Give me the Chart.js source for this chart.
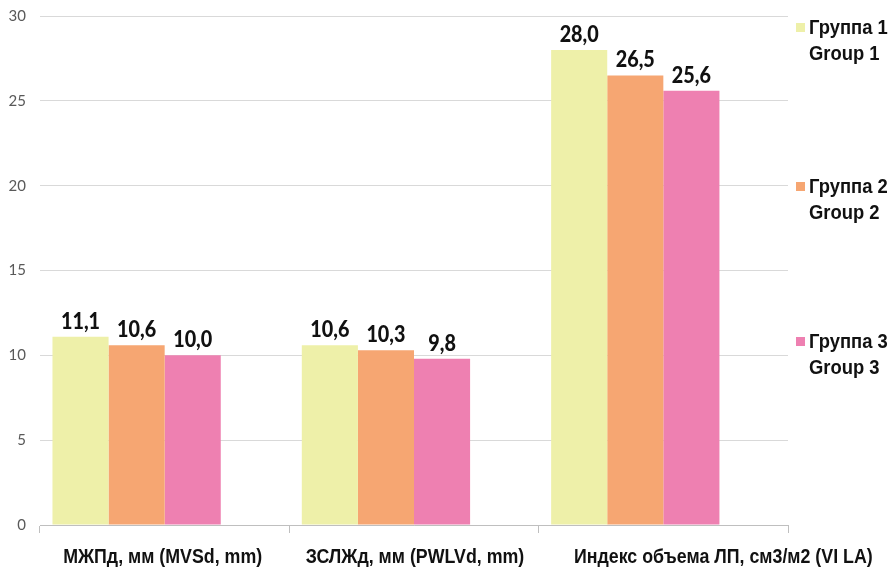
<!DOCTYPE html>
<html>
<head>
<meta charset="utf-8">
<script src="https://cdn.jsdelivr.net/npm/chart.js@4/dist/chart.umd.min.js"></script>
<style>
  html, body { margin: 0; padding: 0; background: #fff; }
  #wrap { width: 890px; height: 572px; position: relative; }
</style>
</head>
<body>
<div id="wrap"><canvas id="c" width="890" height="572"></canvas></div>
<script>
// Echocardiography indices by group
const categories = [
  'МЖПд, мм (MVSd, mm)',
  'ЗСЛЖд, мм (PWLVd, mm)',
  'Индекс объема ЛП, см3/м2 (VI LA)'
];
const group1 = [11.1, 10.6, 28.0];
const group2 = [10.6, 10.3, 26.5];
const group3 = [10.0, 9.8, 25.6];
const seriesRu = ['Группа 1', 'Группа 2', 'Группа 3'];
const seriesEn = ['Group 1', 'Group 2', 'Group 3'];
const colors = ['#EEF0A9', '#F6A672', '#EE80B1'];
const yTicks = [0, 5, 10, 15, 20, 25, 30];

const narrowFont = 'bold 20px "Liberation Sans", Arial, sans-serif';
const plainFont = 'Lato, "Open Sans", "Liberation Sans", sans-serif';

// text squeezed horizontally, like a narrow typeface
function narrowText(ctx, text, x, y, align, squeeze) {
  ctx.save();
  ctx.translate(x, y);
  ctx.scale(squeeze, 1);
  ctx.textAlign = align;
  ctx.fillText(text, 0, 0);
  ctx.restore();
}

// value labels above bars, decimal comma
const valueLabels = {
  id: 'valueLabels',
  afterDatasetsDraw(chart) {
    const ctx = chart.ctx;
    ctx.save();
    ctx.font = '900 23px ' + plainFont;
    ctx.fillStyle = '#111';
    ctx.textBaseline = 'alphabetic';
    chart.data.datasets.forEach((ds, i) => {
      if (!ds.showValues) return;
      chart.getDatasetMeta(i).data.forEach((bar, j) => {
        const v = ds.data[j];
        if (v == null) return;
        narrowText(ctx, v.toFixed(1).replace('.', ','), bar.x, bar.y - 8, 'center', 0.86);
      });
    });
    ctx.restore();
  }
};

// category names under the axis; the long last name is nudged right
const categoryNames = {
  id: 'categoryNames',
  afterDraw(chart) {
    const ctx = chart.ctx;
    const x = chart.scales.x;
    const nudge = [-2, 1, 60];
    ctx.save();
    ctx.font = narrowFont;
    ctx.fillStyle = '#111';
    ctx.textBaseline = 'middle';
    categories.forEach((name, i) => {
      narrowText(ctx, name, x.getPixelForValue(i) + nudge[i], x.bottom - 15, 'center', 0.89);
    });
    ctx.restore();
  }
};

// two-line legend spread down the right side
const sideLegend = {
  id: 'sideLegend',
  afterDraw(chart) {
    const ctx = chart.ctx;
    const rows = [28, 187, 342];
    ctx.save();
    ctx.textBaseline = 'middle';
    ctx.font = narrowFont;
    seriesRu.forEach((name, i) => {
      const cy = rows[i];
      ctx.fillStyle = colors[i];
      ctx.fillRect(796, cy - 5, 9, 9);
      ctx.fillStyle = '#111';
      narrowText(ctx, name, 809, cy, 'left', 0.92);
      narrowText(ctx, seriesEn[i], 809, cy + 26, 'left', 0.92);
    });
    ctx.restore();
  }
};

const datasets = [group1, group2, group3].map((d, i) => ({
  label: seriesRu[i] + ' ' + seriesEn[i],
  data: d,
  backgroundColor: colors[i],
  borderWidth: 0,
  showValues: true
}));
// empty fourth slot keeps the grouped bars left-aligned in each category
datasets.push({ label: '', data: categories.map(() => null), backgroundColor: 'rgba(0,0,0,0)', showValues: false });

new Chart(document.getElementById('c'), {
  type: 'bar',
  data: { labels: categories, datasets },
  options: {
    responsive: false,
    animation: false,
    devicePixelRatio: 1,
    layout: { padding: { top: 0, right: 102, left: 0, bottom: 0 } },
    plugins: { legend: { display: false }, tooltip: { enabled: false } },
    datasets: { bar: { categoryPercentage: 0.9, barPercentage: 1.0 } },
    scales: {
      x: {
        offset: true,
        grid: { display: true, drawOnChartArea: false, drawTicks: true, tickLength: 8, color: '#bfbfbf', offset: true },
        border: { display: true, color: '#bfbfbf' },
        ticks: { color: 'rgba(0,0,0,0)', autoSkip: false, maxRotation: 0, font: { size: 12 } },
        afterFit(s) { s.height = 47; }
      },
      y: {
        min: 0, max: 30,
        afterBuildTicks(s) { s.ticks = yTicks.map(v => ({ value: v })); },
        grid: { color: '#d9d9d9', drawTicks: false },
        border: { display: false },
        ticks: { color: '#595959', font: { family: plainFont, size: 15 }, padding: 14 },
        afterFit(s) { s.width = 40; s.paddingTop = 16; s.paddingBottom = 0; }
      }
    }
  },
  plugins: [valueLabels, categoryNames, sideLegend]
});
</script>
</body>
</html>
